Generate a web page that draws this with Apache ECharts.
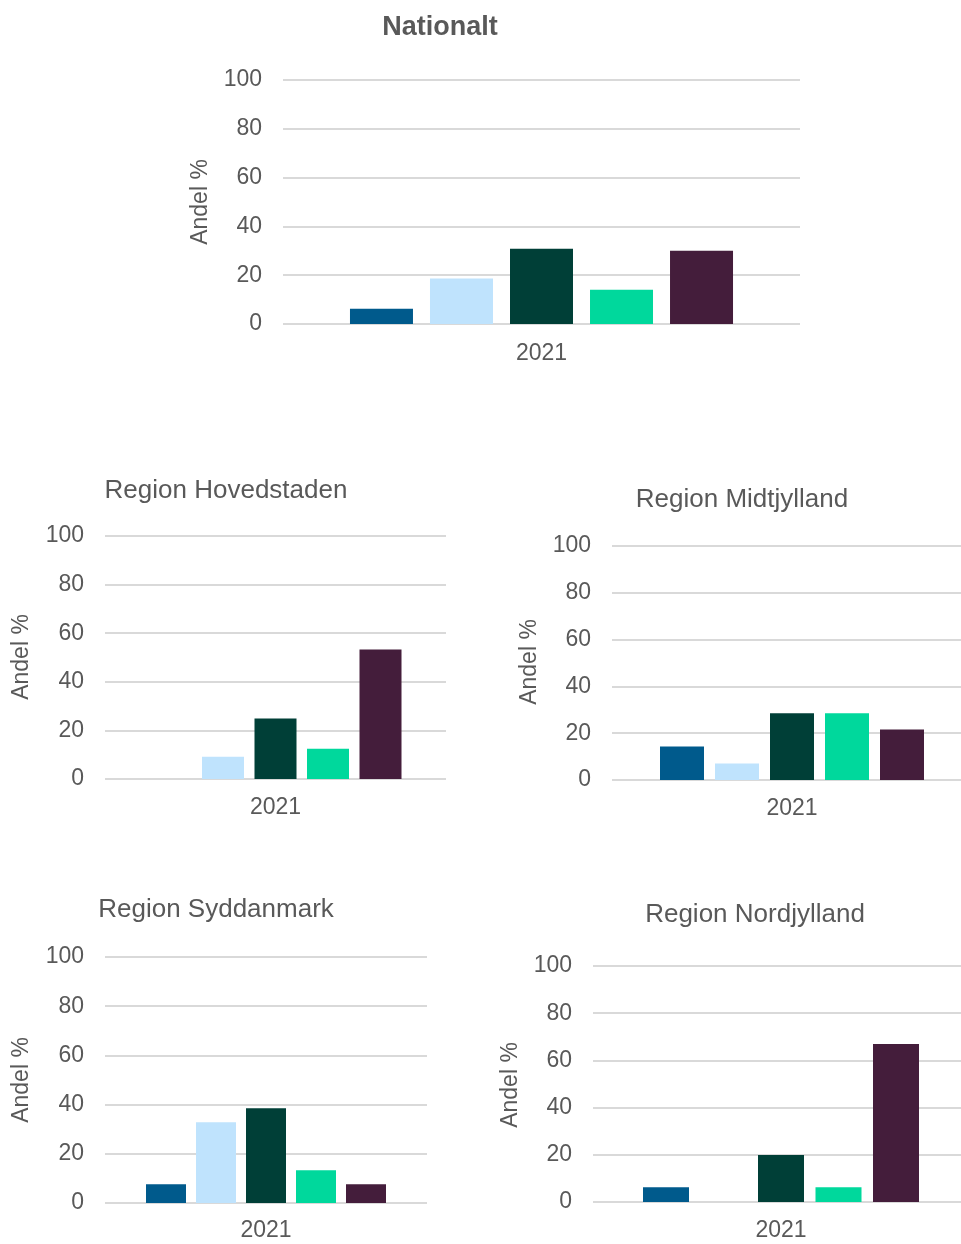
<!DOCTYPE html>
<html>
<head>
<meta charset="utf-8">
<title>Andel % 2021</title>
<script src="https://cdn.jsdelivr.net/npm/echarts@6/dist/echarts.min.js"></script>
<style>
  html, body { margin: 0; padding: 0; background: #ffffff; }
  #chart { width: 961px; height: 1244px; }
</style>
</head>
<body>
<div id="chart"></div>
<script>
// Category shown on every panel's x axis
const categories = ['2021'];

// Five groups drawn as side-by-side bars in every panel
const seriesNames = ['Gruppe 1', 'Gruppe 2', 'Gruppe 3', 'Gruppe 4', 'Gruppe 5'];
const seriesColors = ['#005A8C', '#BFE3FD', '#003F37', '#00D89C', '#441D3B'];

// Share (%) per group, one array per panel
const nationalt   = [6.3, 18.6, 30.8, 14.0, 30.0];
const hovedstaden = [0, 9.2, 24.9, 12.5, 53.3];
const midtjylland = [14.3, 7.0, 28.5, 28.5, 21.6];
const syddanmark  = [7.6, 32.8, 38.5, 13.3, 7.6];
const nordjylland = [6.3, 0, 19.9, 6.3, 66.9];

// Y axis ticks
const yTicks = [0, 20, 40, 60, 80, 100];
const yAxisTitle = 'Andel %';

// Panel placement and styling
const panels = [
  { title: 'Nationalt', bold: true, values: nationalt,
    grid: { left: 283, top: 80, width: 517, height: 244 },
    titlePos: [440, 28], namePos: [201, 202], barWidth: 63, barGap: '27%', labelMargin: 18 },
  { title: 'Region Hovedstaden', values: hovedstaden,
    grid: { left: 105, top: 536, width: 341, height: 243 },
    titlePos: [226, 491], namePos: [22, 657], barWidth: 42, barGap: '25%', labelMargin: 17 },
  { title: 'Region Midtjylland', values: midtjylland,
    grid: { left: 612, top: 546, width: 360, height: 234 },
    titlePos: [742, 500], namePos: [530, 662], barWidth: 44, barGap: '25%', labelMargin: 17 },
  { title: 'Region Syddanmark', values: syddanmark,
    grid: { left: 105, top: 957, width: 322, height: 246 },
    titlePos: [216, 910], namePos: [22, 1080], barWidth: 40, barGap: '25%', labelMargin: 16 },
  { title: 'Region Nordjylland', values: nordjylland,
    grid: { left: 593, top: 966, width: 376, height: 236 },
    titlePos: [755, 915], namePos: [511, 1085], barWidth: 46, barGap: '25%', labelMargin: 17 }
];

const FONT = "'Liberation Sans', Arial, Helvetica, sans-serif";
const TEXT = '#595959';
const GRID_LINE = '#D9D9D9';

const grids = [], xAxes = [], yAxes = [], series = [], graphics = [];

panels.forEach((p, i) => {
  // Keep the plot rectangle exactly where it is placed, even past the canvas edge
  grids.push(Object.assign({ containLabel: false, outerBoundsMode: 'none' }, p.grid));

  xAxes.push({
    type: 'category', gridIndex: i, data: categories,
    axisLine: { show: false }, axisTick: { show: false }, splitLine: { show: false },
    axisLabel: { color: TEXT, fontFamily: FONT, fontSize: 23, margin: p.labelMargin }
  });

  yAxes.push({
    type: 'value', gridIndex: i,
    min: yTicks[0], max: yTicks[yTicks.length - 1], interval: yTicks[1] - yTicks[0],
    axisLine: { show: false }, axisTick: { show: false },
    axisLabel: { color: TEXT, fontFamily: FONT, fontSize: 23, margin: 21 },
    splitLine: { lineStyle: { color: GRID_LINE, width: 2 } }
  });

  seriesNames.forEach((name, k) => {
    series.push({
      type: 'bar', name: name, xAxisIndex: i, yAxisIndex: i,
      data: [p.values[k]],
      barWidth: p.barWidth, barGap: p.barGap,
      itemStyle: { color: seriesColors[k] },
      silent: true
    });
  });

  // Panel title
  graphics.push({
    type: 'text', x: p.titlePos[0], y: p.titlePos[1],
    style: {
      text: p.title, fill: TEXT, align: 'center', verticalAlign: 'middle',
      font: (p.bold ? 'bold 27px ' : '26px ') + FONT
    }
  });

  // Rotated y axis title
  graphics.push({
    type: 'text', x: p.namePos[0], y: p.namePos[1], rotation: Math.PI / 2,
    style: {
      text: yAxisTitle, fill: TEXT, align: 'center', verticalAlign: 'middle',
      font: '23px ' + FONT
    }
  });
});

const chart = echarts.init(document.getElementById('chart'), null, { renderer: 'canvas' });
chart.setOption({
  animation: false,
  backgroundColor: '#ffffff',
  grid: grids,
  xAxis: xAxes,
  yAxis: yAxes,
  series: series,
  graphic: graphics
});
</script>
</body>
</html>
